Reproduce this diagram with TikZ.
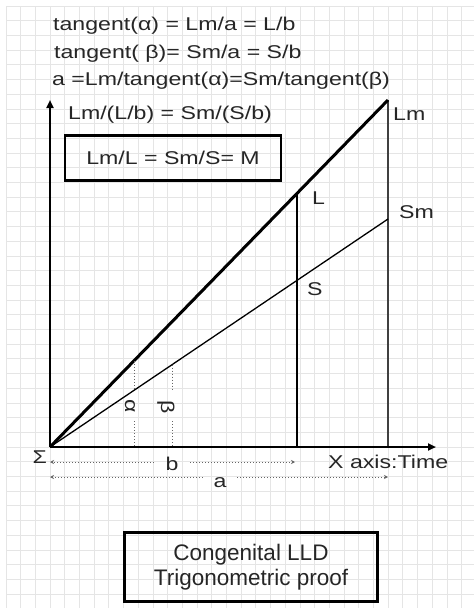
\documentclass[tikz,border=0pt]{standalone}
\usepackage{fontspec}
\setmainfont{Liberation Sans}
\newfontfamily\wfont{Liberation Sans}[FakeStretch=1.25]
\usetikzlibrary{arrows.meta}
\begin{document}
\begin{tikzpicture}[x=1pt,y=-1pt,
  gridline/.style={draw=black!10, line width=0.8pt},
  axis/.style={line width=2.6pt, -{Triangle[length=8pt,width=7pt]}},
  thickray/.style={line width=3pt},
  thinray/.style={line width=1.3pt},
  vline/.style={line width=1.5pt},
  dotv/.style={draw=black!60, line width=1pt, dotted},
  dim/.style={draw=black!60, line width=1pt, dotted},
  dimtip/.style={-{Stealth[length=4pt,width=4pt]}},
  lbl/.style={font=\wfont\fontsize{18.5}{22}\selectfont, text=black!85, inner sep=0pt},
  eqbox/.style={draw, line width=2.6pt, inner sep=0pt, font=\wfont\fontsize{18.5}{22}\selectfont, text=black!85},
  titlebox/.style={draw, line width=2.6pt, inner sep=0pt, align=center, font=\fontsize{22.5}{24.5}\selectfont, text=black!85}
]
\useasboundingbox (0,0) rectangle (474,608);
\fill[white] (0,0) rectangle (474,608);
% grid
\foreach \k in {-3,...,28} \draw[gridline] ({50+14.7*\k},6) -- ({50+14.7*\k},608);
\foreach \k in {-30,...,10} \draw[gridline] (6,{447+14.7*\k}) -- (474,{447+14.7*\k});

% key points
\coordinate (O) at (50,447);
\coordinate (Ytop) at (50,100);
\coordinate (Xend) at (436,447);
\coordinate (LmPt) at (388,100);
\coordinate (SmPt) at (388,219);
\coordinate (Lpt) at (297,193.4);
\coordinate (Lbase) at (297,447);
\coordinate (Lmbase) at (388,447);
\coordinate (aTop) at (134,360.8);
\coordinate (aGap1) at (134,390);
\coordinate (aGap2) at (134,421);
\coordinate (aBase) at (134,447);
\coordinate (bTop) at (172,364.7);
\coordinate (bGap1) at (172,390);
\coordinate (bGap2) at (172,421);
\coordinate (bBase) at (172,447);
\coordinate (b1) at (50,462);
\coordinate (b2) at (295,462);
\coordinate (a1) at (50,477);
\coordinate (a2) at (388,477);

% formulas
\node[lbl, anchor=base west] (t1) at (53,30.7) {tangent(α) = Lm/a = L/b};
\node[lbl, anchor=base west] (t2) at (54,58.3) {tangent( β)= Sm/a = S/b};
\node[lbl, anchor=base west] (t3) at (52,85) {a =Lm/tangent(α)=Sm/tangent(β)};
\node[lbl, anchor=base west] (t4) at (68,119.3) {Lm/(L/b) = Sm/(S/b)};
\node[eqbox, minimum width=216pt, minimum height=45pt] (mbox) at (173,157.8) {Lm/L = Sm/S= M};

% vertical lines
\draw[vline, draw=black!75] (LmPt) -- (Lmbase);
\draw[vline] (Lpt) -- (Lbase);

% rays
\draw[thinray] (O) -- (SmPt);
\draw[thickray] (O) -- (LmPt);

% axes
\draw[axis] (O) -- (Ytop);
\draw[axis] (O) -- (Xend);

% angle markers
\draw[dotv] (aTop) -- (aGap1);
\draw[dotv] (aGap2) -- (aBase);
\draw[dotv] (bTop) -- (bGap1);
\draw[dotv] (bGap2) -- (bBase);
\node[lbl, rotate=-90] (alab) at (130,406) {α};
\node[lbl, rotate=-90] (blab) at (166,407) {β};

% labels
\node[lbl, anchor=base west] (lmlab) at (393,120) {Lm};
\node[lbl, anchor=base west] (llab) at (312,204) {L};
\node[lbl, anchor=base west] (smlab) at (399,218) {Sm};
\node[lbl, anchor=base west] (slab) at (307,295) {S};
\node[lbl, anchor=base west] (xlab) at (328,468.3) {X axis:Time};
\node[lbl, anchor=base east] (sig) at (47,463) {Σ};

% dimension lines
\node[lbl, anchor=base, minimum width=36pt] (bdim) at (172,470) {b};
\node[lbl, anchor=base, minimum width=34pt] (adim) at (220,487) {a};
\draw[dim, dimtip] (bdim.west |- b1) -- (b1);
\draw[dim, dimtip] (bdim.east |- b2) -- (b2);
\draw[dim, dimtip] (adim.west |- a1) -- (a1);
\draw[dim, dimtip] (adim.east |- a2) -- (a2);

% title box
\node[titlebox, minimum width=253.4pt, minimum height=69.4pt] (title) at (251,567) {Congenital LLD\\Trigonometric proof};
\end{tikzpicture}
\end{document}
